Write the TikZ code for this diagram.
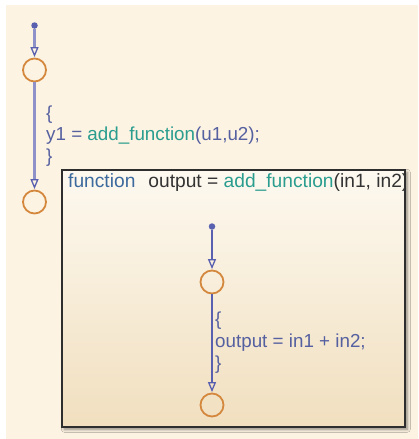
\documentclass[tikz,border=0pt]{standalone}
\usepackage{fontspec}
\setmainfont{Liberation Sans}
\usetikzlibrary{arrows.meta,shadows.blur}
\definecolor{bgcream}{HTML}{FDF3E2}
\definecolor{trblue}{HTML}{5A60B0}
\definecolor{trlight}{HTML}{8E92C8}
\definecolor{stateor}{HTML}{D4883E}
\definecolor{lblblue}{HTML}{5560A0}
\definecolor{kwblue}{HTML}{3D6A9E}
\definecolor{fnteal}{HTML}{2A9D8F}
\definecolor{txtgray}{HTML}{333333}
\definecolor{boxtop}{HTML}{FDF9F0}
\definecolor{boxbot}{HTML}{F1DFBF}
\tikzset{
  statecirc/.style={circle, draw=stateor, line width=1.8pt, minimum size=23pt, inner sep=0pt},
  defdot/.style={circle, fill=trblue, minimum size=6.5pt, inner sep=0pt},
  trouter/.style={draw=trlight, line width=2.4pt, -{Triangle[open, length=10pt, width=8pt, line width=1.3pt, color=trblue]}, shorten >=0.5pt},
  trinner/.style={draw=trblue, line width=1.4pt, -{Triangle[open, length=10pt, width=8pt, line width=1.3pt]}, shorten >=0.5pt},
  lbl/.style={anchor=base west, inner sep=0pt, font=\fontsize{18.8}{22}\selectfont, text=lblblue},
  fbox/.style={draw=txtgray!90!black, line width=1.6pt, top color=boxtop, bottom color=boxbot, anchor=north west, inner sep=0pt,
    blur shadow={shadow xshift=2.5pt, shadow yshift=-2.5pt, shadow blur radius=3pt, shadow opacity=45}},
}
\begin{document}
\begin{tikzpicture}[x=1pt,y=-1pt]
\useasboundingbox (0,0) rectangle (418,439);
\fill[white] (0,0) rectangle (418,439);
\fill[bgcream] (6,5) rectangle (418,439);
% outer chart
\node[defdot] (d1) at (34.5,25.5) {};
\node[statecirc] (s1) at (34.5,70) {};
\node[statecirc] (s2) at (34.5,202) {};
\draw[trouter] (d1) -- (s1);
\draw[trouter] (s1) -- (s2);
\node[lbl] (l1a) at (46,119) {\{};
\node[lbl] (l1b) at (46,140.5) {y1 = \textcolor{fnteal}{add\_function}(u1,u2);};
\node[lbl] (l1c) at (46,162) {\}};
% function box
\node[fbox, minimum width=343pt, minimum height=257pt] (fb) at (61,169) {};
\begin{scope}
\clip ([xshift=0.8pt,yshift=-0.8pt]fb.north west) rectangle ([xshift=-0.8pt,yshift=0.8pt]fb.south east);
\node[lbl, font=\fontsize{19.2}{22}\selectfont] (ftitle) at (68,187) {\textcolor{kwblue}{function}\hspace{13pt}\textcolor{txtgray}{output = }\textcolor{fnteal}{add\_function}\textcolor{txtgray}{(in1, in2)}};
\end{scope}
% inner chart
\node[defdot] (d2) at (212,226.5) {};
\node[statecirc] (s3) at (212,282) {};
\node[statecirc] (s4) at (212,405) {};
\draw[trinner] (d2) -- (s3);
\draw[trinner] (s3) -- (s4);
\node[lbl] (l2a) at (215,325) {\{};
\node[lbl] (l2b) at (215,347.5) {output = in1 + in2;};
\node[lbl] (l2c) at (215,369.5) {\}};
\end{tikzpicture}
\end{document}
